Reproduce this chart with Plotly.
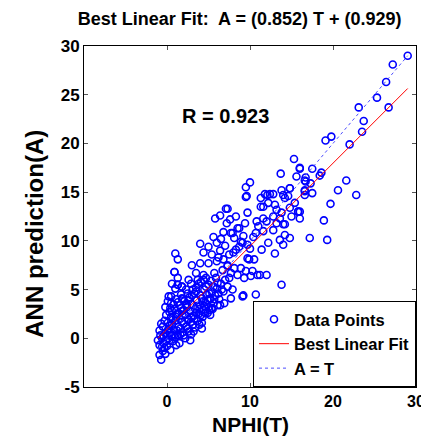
import plotly.graph_objects as go

# Data points (T = NPHI target, A = ANN prediction)
T = [
 -0.7,-0.9,-0.5,-0.9,-0.3,-1.1,-0.8,-0.6,-0.4,-0.2,-0.9,-0.5,-0.3,-0.7,
 0.0,0.2,0.4,0.1,0.5,0.3,0.6,0.8,1.0,1.2,0.9,1.4,1.6,1.8,1.5,2.0,2.2,2.4,2.1,2.6,2.8,3.0,2.7,3.2,3.4,3.6,
 3.3,3.8,4.0,4.2,4.4,4.6,4.8,5.0,5.2,5.4,5.6,5.8,6.0,6.3,0.7,1.3,1.9,2.5,3.1,3.7,4.3,4.9,5.5,6.1,
 1.1,1.7,2.3,0.5,0.2,1.0,2.9,3.5,4.1,4.7,5.3,5.9,6.5,6.8,7.0,0.0,0.4,1.5,2.2,2.9,1.1,2.8,3.2,4.2,4.2,
 4.6,5.4,5.2,0.6,1.3,0.9,1.8,1.3,-0.1,-0.2,0.1,
 0.3,0.6,0.9,1.2,1.6,1.8,2.3,2.5,2.9,3.3,3.5,3.9,4.1,4.5,4.9,5.1,5.7,6.2,6.6,0.1,0.3,0.7,1.1,1.4,
 1.7,2.0,2.3,2.6,3.0,3.5,4.0,4.5,5.0,0.4,0.8,1.3,1.9,2.5,3.1,3.8,4.4,-0.2,-0.6,-0.4,-0.1,0.2,1.0,
 1.6,2.0,2.6,3.4,3.9,0.6,1.9,2.9,3.6,4.3,5.1,5.6,6.1,
 4.0,5.0,6.0,4.4,5.4,6.4,3.0,4.0,5.0,6.0,6.8,3.5,4.4,5.7,6.7,7.3,2.6,3.7,4.7,1.0,1.3,0.9,1.3,1.8,
 5.8,6.4,7.1,7.3,8.1,8.9,9.5,10.3,10.9,12.0,10.1,9.3,8.5,7.7,7.5,13.8,7.3,7.9,7.7,9.1,10.7,9.2,
 6.4,6.9,5.2,1.8,0.5,2.4,4.6,5.4,
 8.5,7.7,10.7,11.6,12.8,12.0,13.2,14.2,14.8,13.6,12.2,11.4,13.0,14.0,8.9,9.7,8.3,9.1,8.7,9.7,10.5,
 7.9,8.7,8.1,11.2,9.9,14.0,15.8,16.6,
 6.5,7.0,7.5,6.2,5.6,7.2,6.8,8.0,7.6,8.3,9.2,10.0,10.4,9.4,10.8,11.0,
 10.0,9.5,9.5,7.3,9.7,11.3,12.1,12.8,13.8,14.8,14.2,14.6,11.6,12.2,13.0,13.2,13.8,14.8,15.4,15.8,
 16.6,16.7,11.6,12.8,13.6,15.0,16.0,12.4,11.8,14.0,9.6,11.3,15.3,13.7,16.0,17.5,18.6,18.4,15.6,16.7,
 16.6,17.3,21.6,20.6,22.8,16.6,17.5,14.8,16.0,16.0,19.7,18.9,17.2,19.3,14.2,
 29.0,27.2,26.4,25.3,26.7,23.1,23.7,23.5,22.0,19.8,19.1,
]
A = [
 -2.2,-1.7,-1.3,-0.7,-1.0,-0.2,0.3,0.0,-0.5,0.5,0.8,1.2,1.8,1.5,
 0.3,1.0,0.6,1.6,2.2,2.7,1.4,0.9,1.8,2.5,3.0,1.2,2.0,2.8,3.4,1.5,2.4,3.2,3.8,1.9,2.8,3.5,4.2,2.3,3.0,3.9,
 4.6,2.5,3.4,4.1,2.9,3.7,4.5,3.2,4.0,4.8,3.6,4.4,5.1,4.0,-0.3,0.3,0.6,1.0,1.4,1.8,2.2,2.6,3.0,3.4,
 4.0,4.5,5.0,3.6,4.3,5.1,5.6,5.2,5.8,5.3,5.9,6.2,5.6,4.8,6.0,-0.8,-1.2,-0.5,0.0,0.4,-0.7,-0.2,0.7,1.0,1.6,
 2.6,3.1,2.4,5.6,6.2,6.8,5.3,5.5,2.4,3.2,3.8,
 -0.2,0.2,0.4,0.8,1.0,1.7,1.2,2.0,1.7,2.0,2.6,3.0,2.4,3.3,3.9,2.9,4.0,4.6,5.0,0.8,1.3,1.9,2.2,2.6,
 3.1,2.9,3.5,3.9,4.4,4.8,4.4,5.0,5.5,3.1,3.5,3.7,4.0,4.6,5.0,5.6,6.0,-1.6,-0.9,0.2,-0.3,0.0,0.1,
 0.4,0.3,0.7,1.1,1.4,2.8,2.3,2.2,3.3,3.8,4.6,5.3,5.7,
 9.7,9.4,9.8,8.8,8.6,9.0,7.5,7.7,7.7,7.9,8.1,6.7,6.5,6.7,7.0,7.4,6.0,6.0,6.2,8.7,8.1,6.8,5.5,5.3,
 12.3,12.6,13.3,7.5,7.2,7.2,6.9,6.9,6.5,6.5,6.4,6.2,6.5,6.7,6.2,5.5,5.3,5.0,4.1,4.3,4.5,4.4,
 3.4,3.6,4.1,4.1,4.3,3.4,2.6,3.1,
 11.3,10.8,10.8,11.0,11.1,12.0,11.8,10.6,10.3,10.1,9.8,9.1,8.7,9.6,9.9,9.6,9.1,9.8,9.4,8.2,8.1,
 10.8,11.3,10.3,6.5,8.1,11.7,13.0,14.7,
 10.2,9.5,8.6,8.3,10.4,11.8,10.9,8.8,12.2,12.5,10.5,9.2,10.4,11.8,12.0,11.5,
 16.0,15.5,14.5,13.3,12.9,14.4,14.7,14.8,15.2,15.4,14.4,14.6,13.5,13.9,13.7,13.2,12.9,13.4,13.9,13.0,
 15.1,16.1,12.3,12.5,12.3,12.5,12.3,14.8,14.8,14.7,14.6,13.5,18.4,16.9,17.4,17.4,17.0,16.7,16.6,16.5,
 16.2,15.9,16.2,15.2,14.7,15.2,14.9,15.4,13.0,17.5,13.8,12.1,10.3,10.1,11.7,
 29.0,28.1,26.3,24.7,23.7,23.7,22.3,21.2,19.9,20.7,20.3,
]

slope = 0.852
intercept = 0.929
R_value = 0.923

x_ticks = [0, 10, 20, 30]
y_ticks = [-5, 0, 5, 10, 15, 20, 25, 30]

tmin, tmax = min(T), max(T)
fit_x = [tmin, tmax]
fit_y = [slope * t + intercept for t in fit_x]

FONT = "Arial, Liberation Sans, sans-serif"

fig = go.Figure()
fig.add_trace(go.Scatter(
    x=T, y=A, mode="markers", name="Data Points",
    marker=dict(symbol="circle-open", size=7, color="#0000ff",
                line=dict(width=1.6, color="#0000ff")),
))
fig.add_trace(go.Scatter(
    x=fit_x, y=fit_y, mode="lines", name="Best Linear Fit",
    line=dict(color="#ff0000", width=1),
))
fig.add_trace(go.Scatter(
    x=fit_x, y=fit_x, mode="lines", name="A = T",
    line=dict(color="#4d4dff", width=1, dash="dot"),
))

fig.add_annotation(
    x=7.1, y=22.8, xref="x", yref="y", showarrow=False,
    text=f"<b>R = {R_value}</b>", font=dict(family=FONT, size=20, color="black"),
)
# axis titles
fig.add_annotation(
    x=0.5, y=-0.074, xref="paper", yref="paper", showarrow=False,
    xanchor="center", yanchor="top", borderpad=0,
    text="<b>NPHI(T)</b>", font=dict(family=FONT, size=21, color="black"),
)
fig.add_annotation(
    x=-0.15, y=0.45, xref="paper", yref="paper", showarrow=False,
    xanchor="center", yanchor="middle", textangle=-90,
    text="<b>ANN prediction(A)</b>", font=dict(family=FONT, size=24, color="black"),
)

fig.update_layout(
    width=429, height=436,
    margin=dict(l=76, r=14, t=38, b=57),
    paper_bgcolor="white", plot_bgcolor="white",
    title=dict(
        text=f"<b>Best Linear Fit:  A = ({slope}) T + ({intercept})</b>",
        x=0.54, xanchor="center", y=0.99, yanchor="top",
        font=dict(family=FONT, size=18, color="black"),
    ),
    font=dict(family=FONT, color="black"),
    showlegend=True,
    legend=dict(
        x=1, y=0, xanchor="right", yanchor="bottom",
        bordercolor="black", borderwidth=1, bgcolor="white",
        font=dict(family=FONT, size=16.5, color="black", weight="bold"),
        tracegroupgap=0, itemwidth=30,
    ),
)
fig.update_xaxes(
    range=[-10, 30], tickvals=x_ticks, ticktext=[str(v) for v in x_ticks],
    showgrid=False, zeroline=False, showline=True, linecolor="black", linewidth=1,
    mirror="ticks", ticks="inside", ticklen=4, tickcolor="#555",
    tickfont=dict(family=FONT, size=16, color="black", weight="bold"),
)
fig.update_yaxes(
    range=[-5, 30], tickvals=y_ticks, ticktext=[str(v) for v in y_ticks],
    showgrid=False, zeroline=False, showline=True, linecolor="black", linewidth=1,
    mirror="ticks", ticks="inside", ticklen=4, tickcolor="#555",
    tickfont=dict(family=FONT, size=17, color="black", weight="bold"),
)

fig.write_html("out.html")
